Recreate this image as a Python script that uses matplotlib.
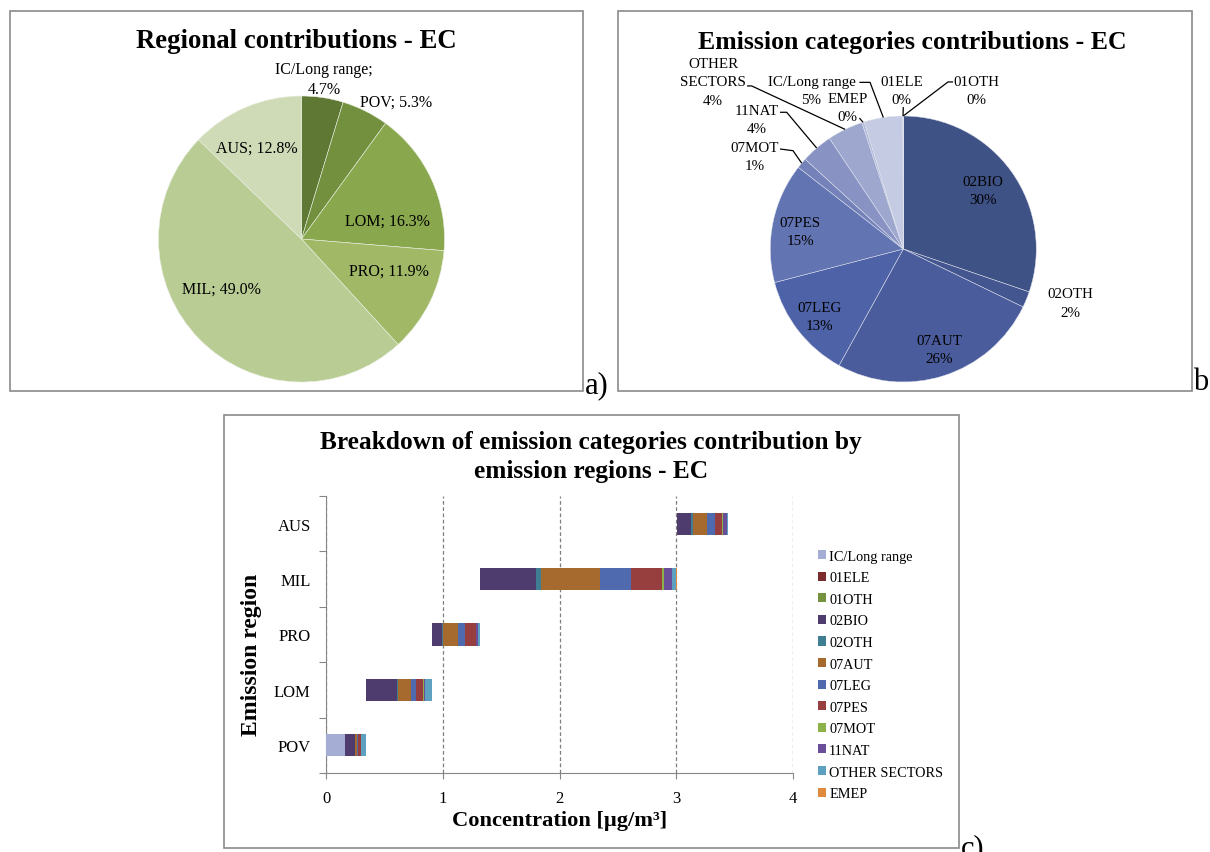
import matplotlib
matplotlib.use("Agg")
import matplotlib.pyplot as plt
import numpy as np
from matplotlib.patches import Rectangle

plt.rcParams["font.family"] = ["Liberation Serif", "DejaVu Serif"]

W, H = 1210, 853

# --- a) regional shares (%), clockwise from 12 o'clock
regions_a = ["IC/Long range", "POV", "LOM", "PRO", "MIL", "AUS"]
shares_a = [4.7, 5.3, 16.3, 11.9, 49.0, 12.8]
colors_a = ["#5f7834", "#73903f", "#89a74c", "#a1b967", "#b9cc94", "#cfdbb6"]

# --- c) sector contributions (µg/m³) per emission region
rows_c = ["POV", "LOM", "PRO", "MIL", "AUS"]
ic_long_range = [0.162, 0.0, 0.0, 0.0, 0.0]
s01ele = [0.0003, 0.0002, 0.0, 0.0003, 0.0]
s01oth = [0.0002, 0.0003, 0.0, 0.0003, 0.0]
s02bio = [0.083, 0.268, 0.083, 0.479, 0.128]
s02oth = [0.003, 0.003, 0.009, 0.043, 0.009]
s07aut = [0.014, 0.117, 0.131, 0.502, 0.126]
s07leg = [0.014, 0.040, 0.060, 0.268, 0.063]
s07pes = [0.020, 0.063, 0.094, 0.262, 0.063]
s07mot = [0.002, 0.006, 0.002, 0.023, 0.011]
s11nat = [0.005, 0.011, 0.014, 0.068, 0.034]
other_sectors = [0.035, 0.054, 0.020, 0.034, 0.006]
emep = [0.003, 0.003, 0.001, 0.002, 0.001]

sectors = ["IC/Long range", "01ELE", "01OTH", "02BIO", "02OTH", "07AUT",
           "07LEG", "07PES", "07MOT", "11NAT", "OTHER SECTORS", "EMEP"]
sector_values = [ic_long_range, s01ele, s01oth, s02bio, s02oth, s07aut,
                 s07leg, s07pes, s07mot, s11nat, other_sectors, emep]
bar_colors = ["#a5add5", "#7b2c2c", "#76923c", "#4f3c6e", "#3f7d92", "#a66a2e",
              "#4f6aae", "#973e3e", "#8db24a", "#6b4e99", "#5ea0c0", "#e08a3c"]

# --- b) same sectors summed over regions, pie order clockwise from top
pie_b_order = ["02BIO", "02OTH", "07AUT", "07LEG", "07PES", "07MOT", "11NAT",
               "OTHER SECTORS", "EMEP", "IC/Long range", "01ELE", "01OTH"]
colors_b = {
    "02BIO": "#3f5285", "02OTH": "#44568f", "07AUT": "#4a5c9b",
    "07LEG": "#4e62a7", "07PES": "#6374b2", "07MOT": "#7482b9",
    "11NAT": "#8893c3", "OTHER SECTORS": "#9ea8cf", "EMEP": "#b3bad9",
    "IC/Long range": "#c5cbe2", "01ELE": "#d3d8ea", "01OTH": "#dde1ef",
}


def fx(x):
    return x / W


def fy(y):
    return 1 - y / H


def pie_axes(cx, cy, r, span=1.6):
    half = r * span
    ax = fig.add_axes([fx(cx - half), fy(cy + half), 2 * half / W, 2 * half / H])
    return ax, span


fig = plt.figure(figsize=(W / 100, H / 100), dpi=100)

# panel frames
for x0, y0, x1, y1 in [(10, 12, 583, 392), (618, 12, 1192, 392), (224, 416, 959, 849)]:
    fig.add_artist(Rectangle((fx(x0), fy(y1)), (x1 - x0) / W, (y1 - y0) / H,
                             transform=fig.transFigure, fill=False,
                             edgecolor="#8a8a8a", linewidth=1.2))

# ---------------- a) regional contributions
ax_a, span = pie_axes(301.5, 240, 143)
ax_a.pie(shares_a, startangle=90, counterclock=False, colors=colors_a,
         wedgeprops=dict(edgecolor="#e9eee0", linewidth=0.4))
ax_a.set_xlim(-span, span)
ax_a.set_ylim(-span, span)
ax_a.axis("off")

label_pos_a = [(0.157, 1.12), (0.66, 0.96), (0.60, 0.126),
               (0.61, -0.22), (-0.558, -0.345), (-0.313, 0.641)]
for name, share, (lx, ly) in zip(regions_a, shares_a, label_pos_a):
    sep = "\n" if name == "IC/Long range" else " "
    ax_a.text(lx, ly, f"{name};{sep}{share:.1f}%", ha="center", va="center",
              fontsize=11.5, linespacing=1.35)

fig.text(fx(296), fy(42), "Regional contributions - EC", ha="center", va="center",
         fontsize=19.3, fontweight="bold")

# ---------------- b) emission categories contributions
totals_b = [sum(sector_values[sectors.index(s)]) for s in pie_b_order]
total_b = sum(totals_b)
ax_b, span = pie_axes(903.3, 250, 133)
ax_b.pie(totals_b, startangle=90, counterclock=False,
         colors=[colors_b[s] for s in pie_b_order],
         wedgeprops=dict(edgecolor="#dfe2ee", linewidth=0.35))
ax_b.set_xlim(-span, span)
ax_b.set_ylim(-span, span)
ax_b.axis("off")

cum = np.cumsum(totals_b)
mid_angle = {s: np.deg2rad(90 - 360 * (c - v / 2) / total_b)
             for s, c, v in zip(pie_b_order, cum, totals_b)}

# text position and leader line start points for each label
label_layout_b = {
    "02BIO": ((0.599, 0.438), []),
    "02OTH": ((1.256, -0.406), []),
    "07AUT": ((0.271, -0.758), []),
    "07LEG": ((-0.632, -0.508), []),
    "07PES": ((-0.777, 0.132), []),
    "07MOT": ((-1.12, 0.695), [(-0.927, 0.752), (-0.829, 0.739)]),
    "11NAT": ((-1.10, 0.974), [(-0.927, 1.028), (-0.877, 1.028)]),
    "OTHER SECTORS": ((-1.43, 1.256), [(-1.175, 1.226), (-1.14, 1.226)]),
    "EMEP": ((-0.42, 1.066), [(-0.33, 0.985)]),
    "IC/Long range": ((-0.69, 1.195), [(-0.33, 1.253), (-0.25, 1.253)]),
    "01ELE": ((-0.013, 1.195), [(0.0, 1.067)]),
    "01OTH": ((0.547, 1.195), [(0.374, 1.256), (0.336, 1.256)]),
}
line_step = 0.136  # label line spacing in radius units
for s, v in zip(pie_b_order, totals_b):
    (lx, ly), leader = label_layout_b[s]
    lines = (["OTHER", "SECTORS"] if s == "OTHER SECTORS" else [s])
    lines.append(f"{100 * v / total_b:.0f}%")
    top = ly + (len(lines) - 1) / 2 * line_step
    for i, line in enumerate(lines):
        ax_b.text(lx, top - i * line_step, line, ha="center", va="center",
                  fontsize=10.8)
    if leader:
        a = mid_angle[s]
        pts = leader + [(np.cos(a), np.sin(a))]
        ax_b.plot([p[0] for p in pts], [p[1] for p in pts], color="black",
                  linewidth=0.9, solid_capstyle="butt")

fig.text(fx(912), fy(42), "Emission categories contributions - EC", ha="center",
         va="center", fontsize=18.5, fontweight="bold")

# ---------------- c) breakdown by emission region (floating stacked bars)
ax_c = fig.add_axes([fx(326), fy(774), 467 / W, 277 / H])
y = np.arange(len(rows_c))
row_totals = np.sum(sector_values, axis=0)
left = np.concatenate([[0.0], np.cumsum(row_totals)[:-1]])
for name, vals, col in zip(sectors, sector_values, bar_colors):
    ax_c.barh(y, vals, left=left, height=0.4, color=col, label=name, zorder=3)
    left = left + np.array(vals)

ax_c.set_xlim(0, 4)
ax_c.set_ylim(-0.5, len(rows_c) - 0.5)
ax_c.set_xticks(range(5))
ax_c.xaxis.grid(True, linestyle=(0, (3, 2)), color="#7f7f7f", linewidth=0.9, zorder=0)
ax_c.set_yticks(np.arange(-0.5, len(rows_c), 1))
ax_c.set_yticklabels([])
ax_c.set_yticks(y, minor=True)
ax_c.set_yticklabels(rows_c, minor=True)
ax_c.tick_params(axis="y", which="minor", length=0, labelsize=12, pad=11)
ax_c.tick_params(axis="y", which="major", length=5, color="#868686")
ax_c.tick_params(axis="x", length=4, color="#868686", labelsize=12, pad=8)
for side in ("top", "right"):
    ax_c.spines[side].set_visible(False)
for side in ("left", "bottom"):
    ax_c.spines[side].set_color("#868686")
ax_c.set_xlabel("Concentration [µg/m³]", fontsize=16.2, fontweight="bold", labelpad=3)
ax_c.set_ylabel("Emission region", fontsize=17, fontweight="bold")
ax_c.yaxis.set_label_coords(-0.137, 0.43)

ax_c.legend(loc="upper left", bbox_to_anchor=(fx(812), fy(545)),
            bbox_transform=fig.transFigure, frameon=False, fontsize=10.3,
            handlelength=0.6, handleheight=0.6, handletextpad=0.2,
            labelspacing=0.6, borderaxespad=0)

fig.text(fx(591), fy(443), "Breakdown of emission categories contribution by",
         ha="center", va="center", fontsize=18.3, fontweight="bold")
fig.text(fx(591), fy(472), "emission regions - EC",
         ha="center", va="center", fontsize=18.3, fontweight="bold")

# panel letters
fig.text(fx(597), fy(386), "a)", ha="center", va="center", fontsize=22)
fig.text(fx(1201), fy(383), "b", ha="center", va="center", fontsize=22)
fig.text(fx(973), fy(849), "c)", ha="center", va="center", fontsize=22)

fig.savefig("out.png", dpi=100)
